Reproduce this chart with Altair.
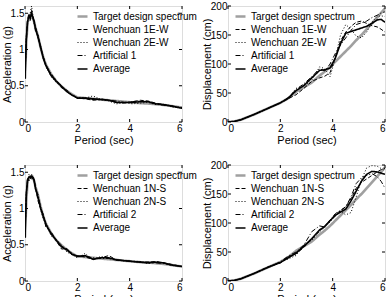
import altair as alt
import pandas as pd

FONT = "Liberation Sans"

# ---------------- data ----------------
PERIOD_TICKS = [0, 2, 4, 6]
ACC_TICKS = [0, 0.5, 1, 1.5]
DISP_TICKS = [0, 50, 100, 150, 200]

NAMES_EW = ["Target design spectrum", "Wenchuan 1E-W", "Wenchuan 2E-W", "Artificial 1", "Average"]
NAMES_NS = ["Target design spectrum", "Wenchuan 1N-S", "Wenchuan 2N-S", "Artificial 2", "Average"]

T_ACC = [0, 0.05, 0.1, 0.15, 0.2, 0.25, 0.3, 0.35, 0.4, 0.5, 0.6, 0.7, 0.8, 1.0, 1.2, 1.4,
         1.6, 1.8, 2.0, 2.3, 2.6, 2.9, 3.2, 3.5, 3.8, 4.1, 4.4, 4.7, 5.0, 5.3, 5.6, 6.0]

ACC_TARGET = [0.6, 1.1, 1.38, 1.42, 1.44, 1.44, 1.43, 1.38, 1.3, 1.18, 1.02, 0.89, 0.79, 0.66, 0.56, 0.49,
              0.43, 0.38, 0.34, 0.33, 0.32, 0.31, 0.3, 0.29, 0.28, 0.27, 0.26, 0.255, 0.245, 0.235, 0.22, 0.2]
ACC_W1EW = [0.6, 1.15, 1.42, 1.5, 1.4, 1.55, 1.45, 1.4, 1.25, 1.2, 1.0, 0.9, 0.76, 0.64, 0.58, 0.47,
            0.44, 0.37, 0.33, 0.32, 0.3, 0.31, 0.3, 0.27, 0.26, 0.28, 0.3, 0.29, 0.26, 0.24, 0.22, 0.19]
ACC_W2EW = [0.6, 1.2, 1.35, 1.45, 1.5, 1.6, 1.48, 1.35, 1.3, 1.15, 1.05, 0.86, 0.8, 0.62, 0.55, 0.5,
            0.41, 0.37, 0.34, 0.33, 0.36, 0.31, 0.29, 0.25, 0.27, 0.25, 0.26, 0.27, 0.24, 0.24, 0.21, 0.19]
ACC_ART1 = [0.6, 1.1, 1.4, 1.45, 1.42, 1.46, 1.42, 1.4, 1.32, 1.17, 1.03, 0.9, 0.78, 0.67, 0.55, 0.5,
            0.42, 0.38, 0.33, 0.33, 0.31, 0.32, 0.3, 0.29, 0.27, 0.28, 0.29, 0.28, 0.25, 0.23, 0.22, 0.2]
ACC_AVG_EW = [0.6, 1.15, 1.39, 1.46, 1.44, 1.5, 1.45, 1.38, 1.29, 1.17, 1.03, 0.88, 0.78, 0.64, 0.56, 0.49,
              0.42, 0.37, 0.33, 0.33, 0.32, 0.31, 0.3, 0.27, 0.27, 0.27, 0.28, 0.28, 0.25, 0.24, 0.22, 0.19]

ACC_W1NS = [0.6, 1.2, 1.42, 1.38, 1.45, 1.4, 1.46, 1.38, 1.3, 1.1, 1.0, 0.92, 0.74, 0.68, 0.55, 0.44,
            0.45, 0.36, 0.35, 0.33, 0.3, 0.32, 0.35, 0.29, 0.28, 0.27, 0.26, 0.26, 0.27, 0.25, 0.23, 0.2]
ACC_W2NS = [0.6, 1.25, 1.35, 1.47, 1.4, 1.48, 1.4, 1.42, 1.25, 1.2, 0.98, 0.85, 0.8, 0.62, 0.57, 0.5,
            0.4, 0.36, 0.32, 0.38, 0.29, 0.34, 0.31, 0.3, 0.28, 0.27, 0.27, 0.24, 0.26, 0.25, 0.22, 0.2]
ACC_ART2 = [0.6, 1.15, 1.4, 1.44, 1.43, 1.45, 1.41, 1.37, 1.3, 1.16, 1.02, 0.89, 0.79, 0.65, 0.56, 0.48,
            0.43, 0.38, 0.34, 0.34, 0.32, 0.31, 0.31, 0.29, 0.28, 0.27, 0.26, 0.26, 0.25, 0.24, 0.22, 0.2]
ACC_AVG_NS = [0.6, 1.2, 1.4, 1.43, 1.43, 1.44, 1.42, 1.39, 1.28, 1.15, 1.0, 0.89, 0.78, 0.65, 0.56, 0.47,
              0.43, 0.37, 0.34, 0.35, 0.3, 0.32, 0.32, 0.29, 0.28, 0.27, 0.26, 0.25, 0.26, 0.25, 0.22, 0.2]

T_DISP = [0, 0.25, 0.5, 1.0, 1.5, 2.0, 2.3, 2.6, 2.9, 3.2, 3.5, 3.7, 3.9, 4.1, 4.3, 4.5,
          4.7, 4.9, 5.1, 5.3, 5.5, 5.7, 5.85, 6.0]

DISP_TARGET = [0, 1, 4, 13, 23, 33, 41, 52, 60, 68, 80, 87, 95, 104, 113, 122,
               131, 141, 150, 160, 170, 180, 188, 196]
DISP_W1EW = [0, 1, 4, 13, 23, 33, 40, 47, 58, 70, 76, 79, 85, 112, 140, 155,
             165, 172, 174, 170, 166, 164, 160, 155]
DISP_W2EW = [0, 1, 4, 13, 23, 33, 40, 58, 62, 72, 95, 92, 78, 110, 150, 168,
             160, 148, 145, 155, 172, 182, 183, 182]
DISP_ART1 = [0, 1, 4, 13, 23, 33, 42, 56, 66, 78, 92, 88, 100, 118, 133, 145,
             158, 168, 171, 174, 180, 184, 188, 190]
DISP_AVG_EW = [0, 1, 4, 13, 23, 33, 41, 54, 63, 76, 89, 90, 93, 110, 135, 153,
               156, 159, 162, 165, 170, 176, 177, 172]

DISP_W1NS = [0, 1, 4, 13, 24, 31, 42, 47, 58, 72, 86, 95, 105, 115, 121, 128,
             142, 160, 170, 176, 182, 188, 192, 194]
DISP_W2NS = [0, 1, 4, 13, 23, 32, 38, 44, 63, 70, 85, 92, 102, 112, 120, 114,
             118, 145, 175, 195, 199, 198, 194, 190]
DISP_ART2 = [0, 1, 4, 13, 23, 33, 43, 50, 62, 85, 95, 93, 105, 116, 122, 128,
             145, 168, 178, 182, 185, 180, 172, 160]
DISP_AVG_NS = [0, 1, 4, 13, 23, 32, 40, 48, 60, 73, 88, 94, 104, 113, 119, 124,
               138, 155, 172, 184, 189, 188, 186, 184]

# ---------------- styles ----------------
COLORS = ["#a0a0a0", "black", "black", "black", "black"]
DASHES = [[1, 0], [4, 2], [1, 2], [5, 2, 1, 2], [1, 0]]
WIDTHS = [2.6, 1, 1, 1, 1.6]
W, H = 157, 116


def long_df(T, names, series):
    rows = []
    for name, vals in zip(names, series):
        for t, v in zip(T, vals):
            rows.append({"T": t, "v": v, "series": name})
    return pd.DataFrame(rows)


def panel(df, names, ydom, yticks, ytitle, ytx, lx, ly):
    leg = alt.Legend(orient="none", legendX=lx, legendY=ly, title=None)
    xscale = alt.Scale(domain=[0, 6], nice=False)
    yscale = alt.Scale(domain=ydom, nice=False)
    xaxis = alt.Axis(values=PERIOD_TICKS, title="Period (sec)", ticks=False, tickSize=0,
                     domain=False, grid=False, labelPadding=1, titleX=W / 2, titleY=12,
                     titleBaseline="top", titleAlign="center",
                     labelOverlap=False, titleFontWeight=400, labelExpr="'' + datum.value")
    yaxis = alt.Axis(values=yticks, title=ytitle, ticks=False, tickSize=0, domain=False,
                     grid=False, labelPadding=1, titleX=ytx, titleY=H / 2, titleAngle=270,
                     titleBaseline="bottom", titleAlign="center", labelOverlap=False,
                     titleFontWeight=400, labelExpr="'' + datum.value")
    tx = alt.X("T:Q", scale=xscale, axis=xaxis)
    ty = alt.Y("v:Q", scale=yscale, axis=yaxis)
    lines = alt.Chart(df).mark_line(clip=True).encode(
        x=tx, y=ty,
        color=alt.Color("series:N", scale=alt.Scale(domain=names, range=COLORS), legend=leg),
        strokeDash=alt.StrokeDash("series:N", scale=alt.Scale(domain=names, range=DASHES), legend=leg),
        strokeWidth=alt.StrokeWidth("series:N", scale=alt.Scale(type="ordinal", domain=names, range=WIDTHS),
                                    legend=leg),
    )
    xt = pd.DataFrame({"T": PERIOD_TICKS})
    yt = pd.DataFrame({"v": yticks})
    tick_bot = alt.Chart(xt).mark_rule(color="black", strokeWidth=1).encode(
        x=tx, y=alt.value(H - 3), y2=alt.value(H))
    tick_top = alt.Chart(xt).mark_rule(color="black", strokeWidth=1).encode(
        x=tx, y=alt.value(0), y2=alt.value(3))
    tick_l = alt.Chart(yt).mark_rule(color="black", strokeWidth=1).encode(
        y=ty, x=alt.value(0), x2=alt.value(3))
    tick_r = alt.Chart(yt).mark_rule(color="black", strokeWidth=1).encode(
        y=ty, x=alt.value(W - 3), x2=alt.value(W))
    return alt.layer(lines, tick_bot, tick_top, tick_l, tick_r).properties(width=W, height=H)


p1 = panel(long_df(T_ACC, NAMES_EW, [ACC_TARGET, ACC_W1EW, ACC_W2EW, ACC_ART1, ACC_AVG_EW]),
           NAMES_EW, [0, 1.6], ACC_TICKS, "Acceleration (g)", -13, 51, 4)
p2 = panel(long_df(T_DISP, NAMES_EW, [DISP_TARGET, DISP_W1EW, DISP_W2EW, DISP_ART1, DISP_AVG_EW]),
           NAMES_EW, [0, 200], DISP_TICKS, "Displacement (cm)", -16, 6, 4)
p3 = panel(long_df(T_ACC, NAMES_NS, [ACC_TARGET, ACC_W1NS, ACC_W2NS, ACC_ART2, ACC_AVG_NS]),
           NAMES_NS, [0, 1.6], ACC_TICKS, "Acceleration (g)", -13, 51, 4)
p4 = panel(long_df(T_DISP, NAMES_NS, [DISP_TARGET, DISP_W1NS, DISP_W2NS, DISP_ART2, DISP_AVG_NS]),
           NAMES_NS, [0, 200], DISP_TICKS, "Displacement (cm)", -16, 6, 4)

chart = alt.concat(p1, p2, p3, p4, columns=2, spacing={"row": 43, "column": 46}, bounds="flush").resolve_scale(
    color="independent", strokeDash="independent", strokeWidth="independent"
).properties(
    padding={"left": 0, "top": 0, "right": 0, "bottom": 0}
).configure_view(stroke="black", strokeWidth=1).configure_axis(
    labelFont=FONT, titleFont=FONT, labelFontSize=8, titleFontSize=8,
    labelColor="black", titleColor="black", titleFontWeight=400, labelOverlap=False
).configure_legend(
    symbolType="stroke", symbolSize=240, labelFont=FONT, labelFontSize=8, labelColor="black",
    rowPadding=2, padding=0, labelOffset=2
).configure(background="white")

chart.save("out.html", embed_options={"renderer": "svg", "actions": False})
